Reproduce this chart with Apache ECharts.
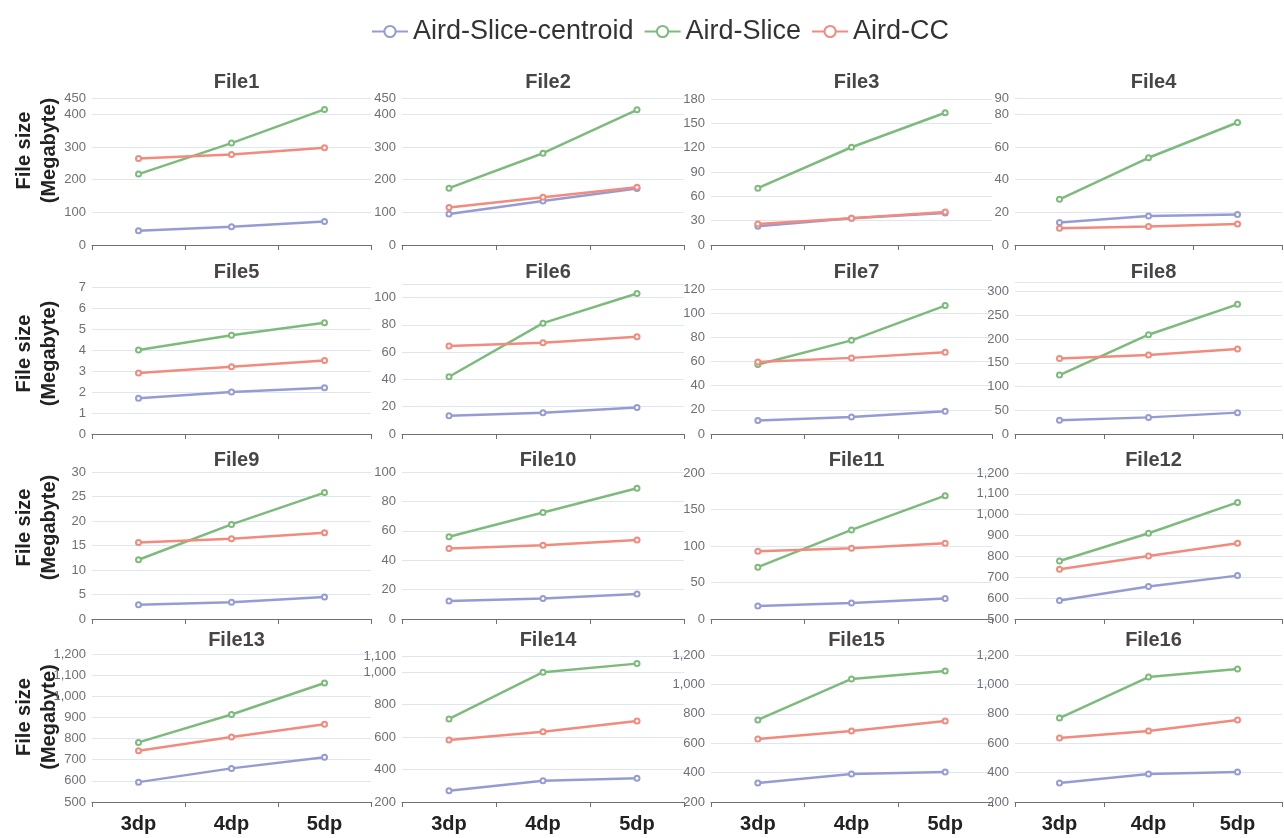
<!DOCTYPE html>
<html>
<head>
<meta charset="utf-8">
<script src="https://cdn.jsdelivr.net/npm/echarts@6/dist/echarts.min.js"></script>
<style>
html,body{margin:0;padding:0;background:#fff;}
#chart{width:1284px;height:838px;}
</style>
</head>
<body>
<div id="chart"></div>
<script>
// ---- data ----
const categories = ['3dp', '4dp', '5dp'];
const fileNames = ['File1','File2','File3','File4','File5','File6','File7','File8',
                   'File9','File10','File11','File12','File13','File14','File15','File16'];
const seriesNames = ['Aird-Slice-centroid', 'Aird-Slice', 'Aird-CC'];

const centroid = [
  [44, 56, 72], [95, 135, 173], [23, 33, 39.5], [13.8, 17.7, 18.7],
  [1.7, 2.0, 2.2], [13.4, 15.6, 19.5], [11.2, 14, 18.9], [29, 35, 45],
  [2.9, 3.4, 4.5], [12.2, 14, 17], [17.8, 22, 28], [589, 656, 708],
  [594, 659, 712], [269, 331, 347], [329, 390, 404], [329, 390, 404]
];
const slice = [
  [217, 312, 415], [174, 281, 414], [70, 120.5, 163], [28, 53.4, 75],
  [4.0, 4.7, 5.3], [42, 81.3, 103], [57.5, 77.5, 106.3], [124, 209, 273],
  [12.1, 19.3, 25.8], [56, 72.4, 89], [71, 122, 169], [778, 911, 1059],
  [782, 914, 1063], [712, 1000, 1053], [758, 1037, 1091], [771, 1050, 1105]
];
const cc = [
  [265, 277, 298], [115, 146, 177], [26, 33, 40.6], [10.2, 11.4, 12.8],
  [2.9, 3.2, 3.5], [64.5, 67, 71.3], [59.5, 63, 67.7], [159, 166.5, 179],
  [15.6, 16.4, 17.6], [48, 50.2, 53.8], [92.7, 96.8, 103.7], [738, 802, 863],
  [742, 807, 868], [582, 633, 700], [629, 683, 751], [635, 683, 758]
];
const yMin = [0,0,0,0, 0,0,0,0, 0,0,0,500, 500,200,200,200];
const yMax = [450,450,180,90, 7,110,120,320, 30,100,200,1200, 1200,1100,1200,1200];
const yInterval = [100,100,30,20, 1,20,20,50, 5,20,50,100, 100,200,200,200];

// ---- layout / style ----
const colors = ['#959cd3', '#7dbb7c', '#f28b7d'];
const colLeft = [92, 402, 711, 1015];
const colWidth = [279, 282, 281, 267];
const rowTop = [[98,98,99,98],[287,284,289,282],[472,472,473,473],[654,656,655,655]];
const rowBottom = [245, 434, 619, 802];
const titleTop = [67, 257, 445, 625];
const nameShift = [42, 14, 36, 22];
const hideMaxLabel = [5, 7];
const FONT = 'Liberation Sans';

const grids = [], xAxes = [], yAxes = [], titles = [], series = [];
for (let i = 0; i < 16; i++) {
  const r = Math.floor(i / 4), c = i % 4;
  const top = rowTop[r][c];
  grids.push({left: colLeft[c], width: colWidth[c], top: top, height: rowBottom[r] - top, containLabel: false});
  titles.push({
    text: fileNames[i], left: colLeft[c] + colWidth[c] / 2, top: titleTop[r], textAlign: 'center',
    textStyle: {fontFamily: FONT, fontSize: 20, fontWeight: 'bold', color: '#464646'}
  });
  xAxes.push({
    type: 'category', gridIndex: i, data: categories, boundaryGap: true,
    axisLine: {lineStyle: {color: '#6E7079'}},
    axisTick: {show: true, length: 5},
    axisLabel: {show: r === 3, fontFamily: FONT, fontSize: 20, fontWeight: 'bold', color: '#222', margin: 12}
  });
  yAxes.push({
    type: 'value', gridIndex: i, min: yMin[i], max: yMax[i], interval: yInterval[i],
    name: c === 0 ? 'File size\n(Megabyte)' : '',
    nameLocation: 'middle', nameGap: 30, nameMoveOverlap: false,
    nameTextStyle: {fontFamily: FONT, fontSize: 20, fontWeight: 'bold', color: '#222', lineHeight: 25,
                    padding: [0, 0, 0, nameShift[r]]},
    axisLine: {show: false}, axisTick: {show: false},
    axisLabel: {fontFamily: FONT, fontSize: 13, color: '#6E7079', margin: 6,
                showMaxLabel: hideMaxLabel.indexOf(i) < 0},
    splitLine: {lineStyle: {color: '#E0E6F1'}}
  });
  [centroid, slice, cc].forEach((arr, k) => {
    series.push({
      type: 'line', name: seriesNames[k], xAxisIndex: i, yAxisIndex: i, data: arr[i],
      color: colors[k], symbol: 'emptyCircle', symbolSize: 5,
      lineStyle: {width: 2.5, color: colors[k]}, itemStyle: {color: colors[k]},
      animation: false
    });
  });
}

const chart = echarts.init(document.getElementById('chart'), null, {renderer: 'canvas'});
chart.setOption({
  backgroundColor: '#fff',
  animation: false,
  color: colors,
  title: titles,
  legend: {
    data: seriesNames, top: 13, left: 366, itemWidth: 36, itemHeight: 14, itemGap: 10,
    textStyle: {fontFamily: FONT, fontSize: 27, color: '#333'}
  },
  grid: grids, xAxis: xAxes, yAxis: yAxes, series: series
});
</script>
</body>
</html>
